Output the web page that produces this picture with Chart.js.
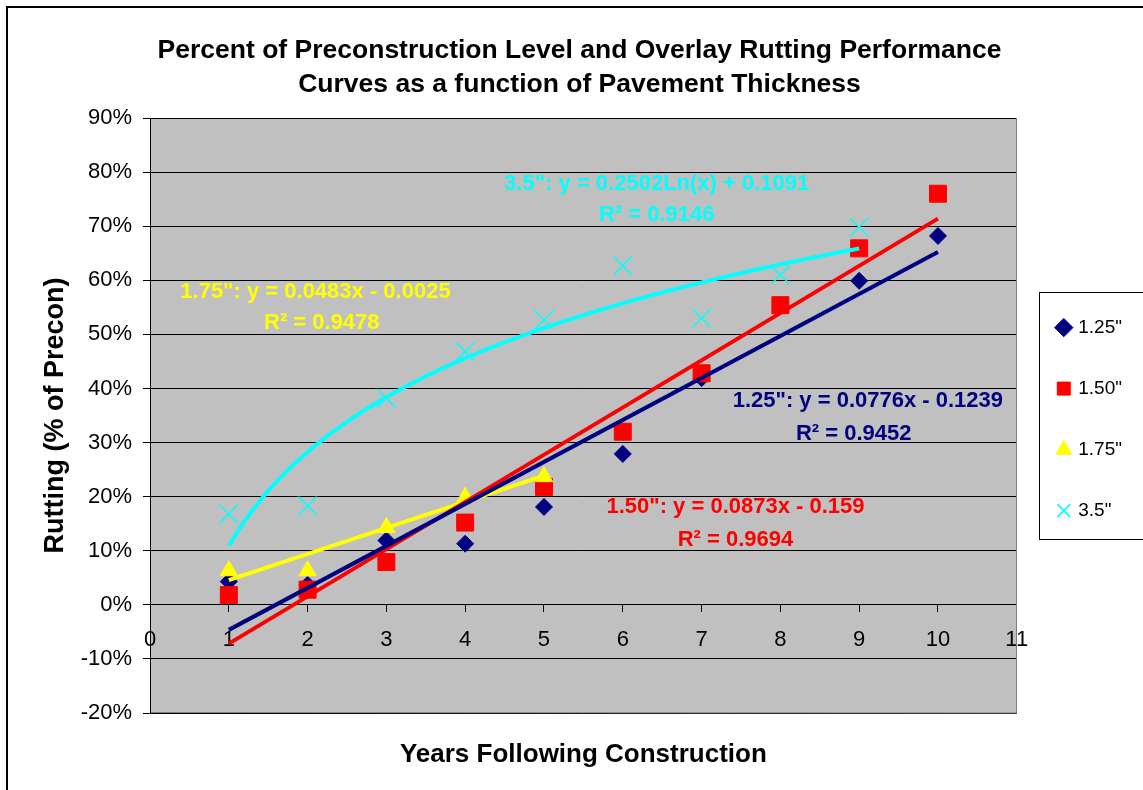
<!DOCTYPE html>
<html>
<head>
<meta charset="utf-8">
<script src="https://cdn.jsdelivr.net/npm/chart.js@4.4.0/dist/chart.umd.min.js"></script>
<style>
html,body{margin:0;padding:0;background:#fff;}
#frame{position:absolute;left:6px;top:6px;width:1160px;height:800px;border:2px solid #000;box-sizing:border-box;}
#wrap{position:absolute;left:0;top:0;width:1143px;height:790px;}
</style>
</head>
<body>
<div id="frame"></div>
<div id="wrap"><canvas id="c" width="1143" height="790"></canvas></div>
<script>
// ---- data ----
const years = [1, 2, 3, 4, 5, 6, 7, 8, 9, 10];
const rut125 = [0.043, 0.037, 0.119, 0.113, 0.181, 0.279, 0.419, 0.552, 0.599, 0.682];
const rut150 = [0.018, 0.028, 0.079, 0.152, 0.218, 0.320, 0.428, 0.554, 0.659, 0.760];
const years175 = [1, 2, 3, 4, 5];
const rut175 = [0.063, 0.063, 0.143, 0.199, 0.237];
const years35 = [1, 2, 3, 4, 5, 6, 7, 8, 9];
const rut35 = [0.168, 0.183, 0.382, 0.468, 0.527, 0.627, 0.530, 0.610, 0.698];
const seriesNames = ['1.25"', '1.50"', '1.75"', '3.5"'];
// trendline coefficients as printed on the chart
const fit125 = [0.0776, -0.1239];   // linear: a*x + b
const fit150 = [0.0873, -0.159];    // linear
const fit175 = [0.0483, -0.0025];   // linear
const fit35 = [0.2502, 0.1091];     // logarithmic: a*ln(x) + b
const trendLabels = [
  ['1.25": y = 0.0776x - 0.1239', 'R\u00B2 = 0.9452'],
  ['1.50": y = 0.0873x - 0.159', 'R\u00B2 = 0.9694'],
  ['1.75": y = 0.0483x - 0.0025', 'R\u00B2 = 0.9478'],
  ['3.5": y = 0.2502Ln(x) + 0.1091', 'R\u00B2 = 0.9146']
];
const xTickValues = [0, 1, 2, 3, 4, 5, 6, 7, 8, 9, 10, 11];
const yTickValues = [-0.2, -0.1, 0, 0.1, 0.2, 0.3, 0.4, 0.5, 0.6, 0.7, 0.8, 0.9];

// ---- styling ----
const FONT = "'Liberation Sans', Arial, Helvetica, sans-serif";
const colors = ['#000080', '#FF0000', '#FFFF00', '#00FFFF'];
// label anchor points in data units (centre of each text line)
const labelPlacement = [
  [[9.11, 0.376], [8.93, 0.316]],
  [[7.43, 0.181], [7.43, 0.120]],
  [[2.10, 0.579], [2.18, 0.521]],
  [[6.43, 0.778], [6.43, 0.720]]
];

const pts = (xs, ys) => xs.map((x, i) => ({x: x, y: ys[i]}));
const linTrend = (c, xs) => [xs[0], xs[xs.length - 1]].map(x => ({x: x, y: c[0] * x + c[1]}));
const logTrend = (c, xs) => {
  const out = [];
  const x0 = xs[0], x1 = xs[xs.length - 1];
  for (let k = 0; k <= 80; k++) { const x = x0 + (x1 - x0) * k / 80; out.push({x: x, y: c[0] * Math.log(x) + c[1]}); }
  return out;
};

const scatterBase = {showLine: false, borderWidth: 1};
const datasets = [
  Object.assign({}, scatterBase, {label: seriesNames[0], data: pts(years, rut125), pointStyle: 'rectRot', pointRadius: 8.5, pointHoverRadius: 8.5, backgroundColor: colors[0], borderColor: colors[0], order: 4}),
  Object.assign({}, scatterBase, {label: seriesNames[1], data: pts(years, rut150), pointStyle: 'rect', pointRadius: 12, pointHoverRadius: 12, backgroundColor: colors[1], borderColor: colors[1], order: 3}),
  Object.assign({}, scatterBase, {label: seriesNames[2], data: pts(years175, rut175), pointStyle: 'triangle', pointRadius: 10, pointHoverRadius: 10, backgroundColor: colors[2], borderColor: colors[2], order: 2}),
  Object.assign({}, scatterBase, {label: seriesNames[3], data: pts(years35, rut35), pointStyle: 'crossRot', pointRadius: 13, pointHoverRadius: 13, backgroundColor: colors[3], borderColor: colors[3], borderWidth: 1.5, order: 1}),
  {label: 'trend125', data: linTrend(fit125, years), showLine: true, pointRadius: 0, borderColor: colors[0], borderWidth: 4, order: 0},
  {label: 'trend150', data: linTrend(fit150, years), showLine: true, pointRadius: 0, borderColor: colors[1], borderWidth: 4, order: 0},
  {label: 'trend175', data: linTrend(fit175, years175), showLine: true, pointRadius: 0, borderColor: colors[2], borderWidth: 4, order: 0},
  {label: 'trend35', data: logTrend(fit35, years35), showLine: true, pointRadius: 0, borderColor: colors[3], borderWidth: 4, order: 0}
];

const plotBackground = {
  id: 'plotBackground',
  beforeDraw(chart) {
    const {ctx, chartArea: a} = chart;
    ctx.save();
    ctx.fillStyle = '#C0C0C0';
    ctx.fillRect(a.left, a.top, a.width, a.height);
    ctx.restore();
  },
  beforeDatasetsDraw(chart) {
    const {ctx, chartArea: a} = chart;
    ctx.save();
    ctx.strokeStyle = '#808080';
    ctx.lineWidth = 1;
    ctx.beginPath();
    ctx.moveTo(Math.round(a.right) - 0.5, a.top);
    ctx.lineTo(Math.round(a.right) - 0.5, a.bottom);
    ctx.lineTo(a.left + 1, a.bottom - 0.5);
    ctx.stroke();
    ctx.restore();
  }
};

const trendText = {
  id: 'trendText',
  afterDatasetsDraw(chart) {
    const {ctx} = chart;
    const xs = chart.scales.x, ys = chart.scales.y;
    ctx.save();
    ctx.font = 'bold 22px ' + FONT;
    ctx.textAlign = 'center';
    ctx.textBaseline = 'middle';
    trendLabels.forEach((lines, i) => {
      ctx.fillStyle = colors[i];
      lines.forEach((t, j) => {
        const p = labelPlacement[i][j];
        ctx.fillText(t, xs.getPixelForValue(p[0]), ys.getPixelForValue(p[1]));
      });
    });
    ctx.restore();
  }
};

const legendFrame = {
  id: 'legendFrame',
  afterDraw(chart) {
    const lg = chart.legend;
    if (!lg || !lg.legendHitBoxes || !lg.legendHitBoxes.length) return;
    const hb = lg.legendHitBoxes;
    const top = hb[0].top - 26;
    const bottom = hb[hb.length - 1].top + hb[hb.length - 1].height + 19;
    const ctx = chart.ctx;
    ctx.save();
    ctx.strokeStyle = '#000';
    ctx.lineWidth = 1;
    ctx.strokeRect(Math.round(lg.left + 22) + 0.5, Math.round(top) + 0.5, 200, Math.round(bottom - top));
    ctx.restore();
  }
};

new Chart(document.getElementById('c'), {
  type: 'scatter',
  data: {datasets: datasets},
  plugins: [plotBackground, trendText, legendFrame],
  options: {
    responsive: false,
    animation: false,
    events: [],
    layout: {padding: {left: 27, right: 11, top: 0, bottom: 0}},
    scales: {
      x: {
        type: 'linear',
        position: {y: 0},
        min: 0, max: 11,
        afterBuildTicks: (s) => { s.ticks = xTickValues.map(v => ({value: v})); },
        ticks: {color: '#000', font: {family: FONT, size: 22}, padding: 15, maxRotation: 0, autoSkip: false},
        grid: {drawOnChartArea: false, drawTicks: true, tickLength: 7, color: '#000'},
        border: {display: true, color: '#000', width: 1}
      },
      y: {
        type: 'linear',
        position: 'left',
        min: -0.2, max: 0.9,
        afterBuildTicks: (s) => { s.ticks = yTickValues.map(v => ({value: v})); },
        afterFit: (s) => { s.width = 123; },
        ticks: {color: '#000', font: {family: FONT, size: 22}, padding: 11,
          callback: (v) => Math.round(v * 100) + '%'},
        grid: {color: '#000', lineWidth: 1, tickLength: 7, drawTicks: true},
        border: {display: true, color: '#000', width: 1},
        title: {display: true, text: 'Rutting (% of Precon)', color: '#000',
          font: {family: FONT, size: 27, weight: 'bold', lineHeight: 1.2}, padding: {top: 12, bottom: 0}}
      }
    },
    plugins: {
      tooltip: {enabled: false},
      title: {
        display: true,
        text: ['Percent of Preconstruction Level and Overlay Rutting Performance', 'Curves as a function of Pavement Thickness'],
        color: '#000',
        font: {family: FONT, size: 26.5, weight: 'bold', lineHeight: '34px'},
        padding: {top: 34, bottom: 16}
      },
      subtitle: {
        display: true,
        position: 'bottom',
        fullSize: false,
        text: 'Years Following Construction',
        color: '#000',
        font: {family: FONT, size: 26, weight: 'bold', lineHeight: 1.2},
        padding: {top: 26.4, bottom: 19.4}
      },
      legend: {
        display: true,
        position: 'right',
        fullSize: false,
        title: {display: true, text: ' ', padding: 0, font: {family: FONT, size: 6, lineHeight: 1.2}},
        labels: {
          usePointStyle: true,
          boxWidth: 10,
          boxHeight: 13,
          padding: 42,
          color: '#000',
          font: {family: FONT, size: 19},
          filter: (item) => item.datasetIndex < 4,
          sort: (a, b) => a.datasetIndex - b.datasetIndex
        }
      }
    }
  }
});
</script>
</body>
</html>
